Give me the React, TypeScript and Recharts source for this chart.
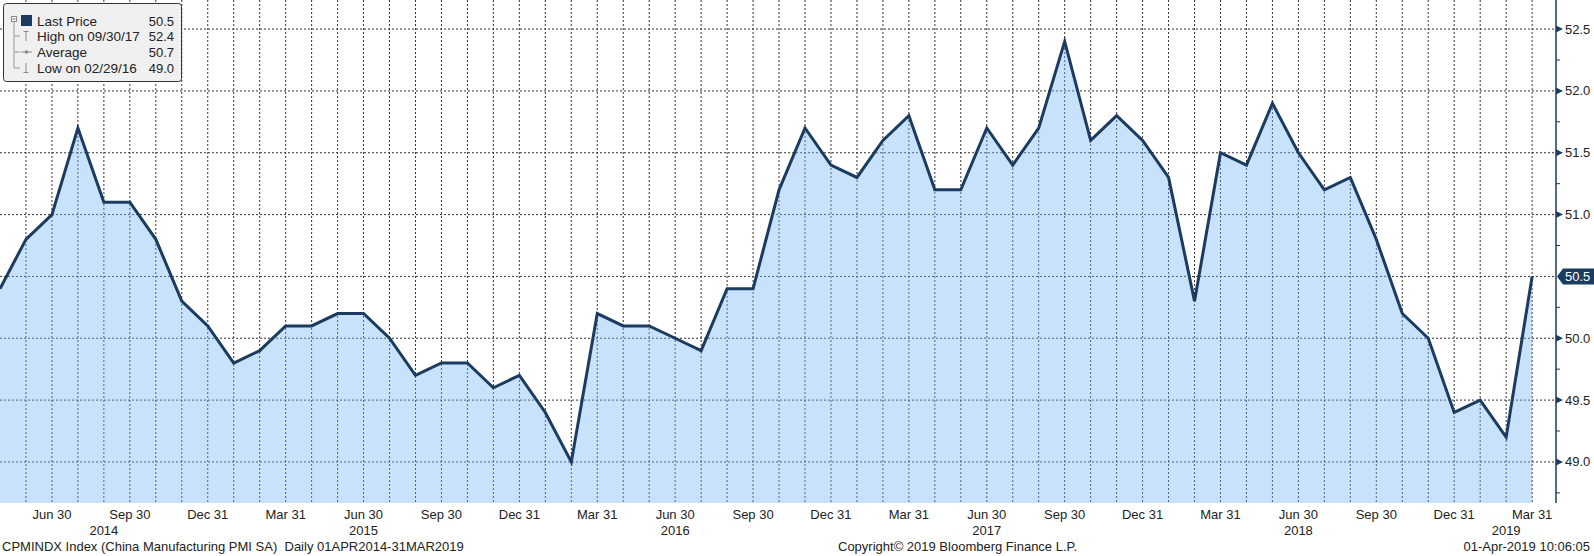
import React from 'react';
import { AreaChart, Area, XAxis, YAxis, CartesianGrid } from 'recharts';

// China manufacturing PMI, month-end values, Apr 2014 .. Mar 2019
const pmi = [
  50.4, 50.8, 51.0, 51.7, 51.1, 51.1, 50.8, 50.3, 50.1,
  49.8, 49.9, 50.1, 50.1, 50.2, 50.2, 50.0, 49.7, 49.8, 49.8, 49.6, 49.7,
  49.4, 49.0, 50.2, 50.1, 50.1, 50.0, 49.9, 50.4, 50.4, 51.2, 51.7, 51.4,
  51.3, 51.6, 51.8, 51.2, 51.2, 51.7, 51.4, 51.7, 52.4, 51.6, 51.8, 51.6,
  51.3, 50.3, 51.5, 51.4, 51.9, 51.5, 51.2, 51.3, 50.8, 50.2, 50.0, 49.4,
  49.5, 49.2, 50.5,
];
const startYear = 2014;
const startMonth = 4; // first point is the end of April

const quarterTicks = [2, 5, 8, 11, 14, 17, 20, 23, 26, 29, 32, 35, 38, 41, 44, 47, 50, 53, 56, 59];
const quarterLabels = [
  'Jun 30', 'Sep 30', 'Dec 31', 'Mar 31', 'Jun 30', 'Sep 30', 'Dec 31', 'Mar 31', 'Jun 30', 'Sep 30',
  'Dec 31', 'Mar 31', 'Jun 30', 'Sep 30', 'Dec 31', 'Mar 31', 'Jun 30', 'Sep 30', 'Dec 31', 'Mar 31',
];
const yearTicks = [4, 14, 26, 38, 50, 58];
const yearLabels = ['2014', '2015', '2016', '2017', '2018', '2019'];
const yMajorTicks = [49.0, 49.5, 50.0, 50.5, 51.0, 51.5, 52.0, 52.5];
const yMinorTicks = [48.75, 49.25, 49.75, 50.25, 50.75, 51.25, 51.75, 52.25];

const NAVY = '#1b3b60';
const FONT = "Tahoma, 'Liberation Sans', Arial, sans-serif";

const data = pmi.map((v, i) => ({ i, v }));
const monthLines = pmi.map((_, i) => i).slice(1);
const lastVal = pmi[pmi.length - 1];
const hiVal = Math.max(...pmi);
const loVal = Math.min(...pmi);
const avgVal = pmi.reduce((a, b) => a + b, 0) / pmi.length;

const dateOf = (idx: number) => {
  const d = new Date(startYear, startMonth - 1 + idx + 1, 0);
  const p = (n: number) => String(n).padStart(2, '0');
  return `${p(d.getMonth() + 1)}/${p(d.getDate())}/${p(d.getFullYear() % 100)}`;
};

const QuarterTick = ({ x, y, payload }: any) => {
  const k = quarterTicks.indexOf(payload.value);
  return (
    <text x={x} y={y + 16} textAnchor="middle" fontSize={13} fontFamily={FONT} fill="#222">
      {quarterLabels[k]}
    </text>
  );
};

const YearTick = ({ x, y, payload }: any) => {
  const k = yearTicks.indexOf(payload.value);
  return (
    <text x={x} y={y + 13} textAnchor="middle" fontSize={13} fontFamily={FONT} fill="#222">
      {yearLabels[k]}
    </text>
  );
};

const PriceTick = ({ x, y, payload }: any) => {
  const v = payload.value;
  if (!yMajorTicks.includes(v)) {
    return <line x1={x} x2={x + 4} y1={y} y2={y} stroke={NAVY} strokeWidth={1} />;
  }
  if (Math.abs(v - lastVal) < 1e-9) {
    return (
      <g>
        <polygon
          points={`${x + 1},${y} ${x + 7},${y - 8} ${x + 38},${y - 8} ${x + 38},${y + 8} ${x + 7},${y + 8}`}
          fill={NAVY}
        />
        <text x={x + 9} y={y + 4.5} fontSize={13} fontFamily={FONT} fill="#fff">
          {v.toFixed(1)}
        </text>
      </g>
    );
  }
  return (
    <g>
      <polygon points={`${x},${y - 3.5} ${x + 7},${y} ${x},${y + 3.5}`} fill={NAVY} />
      <text x={x + 9} y={y + 4.5} fontSize={13} fontFamily={FONT} fill="#222">
        {v.toFixed(1)}
      </text>
    </g>
  );
};

const LegendBox = () => {
  const rows = [
    { label: 'Last Price', val: lastVal, y: 21 },
    { label: `High on ${dateOf(pmi.indexOf(hiVal))}`, val: hiVal, y: 36 },
    { label: 'Average', val: avgVal, y: 52 },
    { label: `Low on ${dateOf(pmi.indexOf(loVal))}`, val: loVal, y: 68 },
  ];
  return (
    <svg width={186} height={86} style={{ position: 'absolute', left: 0, top: 0 }}>
      <rect x={3.5} y={3.5} width={178} height={78} rx={3} fill="#f0f0f0" stroke="#333" />
      <rect x={11.5} y={16.5} width={5} height={5} fill="#fff" stroke="#888" />
      <line x1={12.5} x2={15.5} y1={19} y2={19} stroke="#666" />
      <line x1={14} x2={14} y1={22} y2={68} stroke="#999" />
      <line x1={14} x2={20} y1={36} y2={36} stroke="#999" />
      <line x1={14} x2={20} y1={52} y2={52} stroke="#999" />
      <line x1={14} x2={20} y1={68} y2={68} stroke="#999" />
      <rect x={21} y={15} width={11} height={11} fill={NAVY} />
      <line x1={26} x2={26} y1={31} y2={41} stroke="#888" />
      <line x1={23.5} x2={28.5} y1={31.5} y2={31.5} stroke="#888" />
      <line x1={21} x2={32} y1={52} y2={52} stroke="#888" />
      <circle cx={26.5} cy={52} r={1.8} fill="#888" />
      <line x1={26} x2={26} y1={63} y2={73} stroke="#888" />
      <line x1={23.5} x2={28.5} y1={72.5} y2={72.5} stroke="#888" />
      {rows.map((r) => (
        <g key={r.label}>
          <text x={37} y={r.y + 5} fontSize={13.5} fontFamily={FONT} fill="#222">{r.label}</text>
          <text x={174} y={r.y + 5} fontSize={13} fontFamily={FONT} fill="#222" textAnchor="end">
            {r.val.toFixed(1)}
          </text>
        </g>
      ))}
    </svg>
  );
};

const footStyle: React.CSSProperties = {
  position: 'absolute',
  top: 539,
  fontSize: 13,
  fontFamily: FONT,
  color: '#222',
  whiteSpace: 'pre',
  lineHeight: '16px',
};

export default function App() {
  return (
    <div style={{ position: 'absolute', left: 0, top: 0, width: 1594, height: 556, background: '#fff' }}>
      <AreaChart width={1594} height={556} data={data} margin={{ top: 0, right: 0, bottom: 18, left: 0 }}>
        <CartesianGrid
          verticalValues={monthLines}
          horizontalValues={yMajorTicks}
          stroke="#333"
          strokeDasharray="2 2"
          strokeWidth={1}
        />
        <XAxis
          dataKey="i"
          type="number"
          domain={[0, 59.92]}
          allowDataOverflow
          ticks={quarterTicks}
          interval={0}
          axisLine={false}
          tickLine={false}
          tickSize={0}
          tickMargin={0}
          height={19}
          tick={<QuarterTick />}
        />
        <XAxis
          xAxisId="year"
          dataKey="i"
          type="number"
          domain={[0, 59.92]}
          allowDataOverflow
          ticks={yearTicks}
          interval={0}
          axisLine={false}
          tickLine={false}
          tickSize={0}
          tickMargin={0}
          height={16}
          tick={<YearTick />}
        />
        <YAxis
          orientation="right"
          type="number"
          domain={[48.668, 52.735]}
          allowDataOverflow
          ticks={[...yMinorTicks, ...yMajorTicks].sort((a, b) => a - b)}
          interval={0}
          width={38}
          axisLine={{ stroke: NAVY, strokeWidth: 1.5 }}
          tickLine={false}
          tickSize={0}
          tickMargin={0}
          tick={<PriceTick />}
        />
        <Area
          type="linear"
          dataKey="v"
          baseValue="dataMin"
          stroke={NAVY}
          strokeWidth={3}
          fill="#76b6f8"
          fillOpacity={0.4}
          dot={false}
          activeDot={false}
          isAnimationActive={false}
        />
      </AreaChart>
      <LegendBox />
      <div style={{ ...footStyle, left: 2 }}>CPMINDX Index (China Manufacturing PMI SA)  Daily 01APR2014-31MAR2019</div>
      <div style={{ ...footStyle, left: 838 }}>Copyright© 2019 Bloomberg Finance L.P.</div>
      <div style={{ ...footStyle, right: 4 }}>01-Apr-2019 10:06:05</div>
    </div>
  );
}
